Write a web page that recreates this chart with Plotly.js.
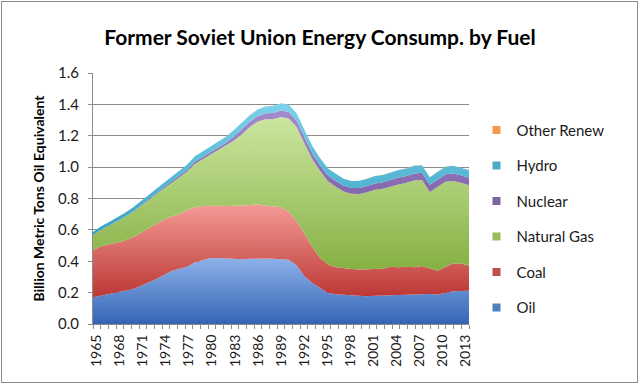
<!DOCTYPE html>
<html>
<head>
<meta charset="utf-8">
<script src="https://cdn.plot.ly/plotly-3.0.1.min.js"></script>
<style>
  html, body { margin: 0; padding: 0; background: #ffffff; }
  #wrap { position: relative; width: 640px; height: 386px; overflow: hidden; }
  #frame { position: absolute; left: 1px; top: 1px; width: 635px; height: 380px; border: 1px solid #8a8a8a; pointer-events: none; }
  #chart { position: absolute; left: 0; top: 0; width: 640px; height: 386px; }
</style>
</head>
<body>
<div id="wrap">
  <div id="chart"></div>
  <div id="frame"></div>
</div>
<script>
const years = [1965,1966,1967,1968,1969,1970,1971,1972,1973,1974,
               1975,1976,1977,1978,1979,1980,1981,1982,1983,1984,
               1985,1986,1987,1988,1989,1990,1991,1992,1993,1994,
               1995,1996,1997,1998,1999,2000,2001,2002,2003,2004,
               2005,2006,2007,2008,2009,2010,2011,2012,2013];

const tickYears = [1965,1968,1971,1974,1977,1980,1983,1986,1989,1992,1995,1998,2001,2004,2007,2010,2013];
const tickLabels = ['1965','1968','1971','1974','1977','1980','1983','1986','1989','1992','1995','1998','2001','2004','2007','2010','2013'];

const seriesNames = ['Oil','Coal','Natural Gas','Nuclear','Hydro','Other Renew'];

const oil = [0.170,0.180,0.192,0.203,0.212,0.222,0.240,0.260,0.285,0.310,
             0.338,0.352,0.365,0.392,0.405,0.420,0.420,0.416,0.413,0.412,
             0.416,0.418,0.418,0.416,0.414,0.410,0.375,0.305,0.262,0.230,
             0.198,0.190,0.187,0.183,0.178,0.177,0.180,0.182,0.184,0.186,
             0.188,0.190,0.190,0.192,0.188,0.200,0.208,0.210,0.212];

const coal = [0.300,0.315,0.315,0.317,0.318,0.328,0.340,0.350,0.355,0.355,
              0.347,0.348,0.360,0.353,0.347,0.335,0.334,0.336,0.339,0.343,
              0.342,0.344,0.337,0.332,0.331,0.305,0.280,0.270,0.228,0.190,
              0.182,0.172,0.168,0.167,0.170,0.171,0.170,0.170,0.181,0.176,
              0.177,0.172,0.180,0.163,0.152,0.165,0.177,0.175,0.160];

const gas = [0.095,0.105,0.118,0.130,0.150,0.160,0.165,0.175,0.185,0.195,
             0.215,0.235,0.245,0.275,0.298,0.320,0.351,0.383,0.418,0.455,
             0.497,0.528,0.550,0.557,0.575,0.595,0.600,0.575,0.560,0.555,
             0.530,0.513,0.490,0.480,0.480,0.492,0.505,0.510,0.513,0.528,
             0.535,0.553,0.548,0.486,0.535,0.542,0.526,0.515,0.512];

const nuclear = [0.001,0.001,0.001,0.002,0.002,0.003,0.004,0.005,0.006,0.007,
                 0.008,0.010,0.012,0.014,0.016,0.018,0.020,0.022,0.026,0.030,
                 0.034,0.035,0.038,0.040,0.041,0.041,0.041,0.040,0.038,0.036,
                 0.036,0.037,0.037,0.037,0.039,0.040,0.041,0.042,0.043,0.044,
                 0.044,0.045,0.046,0.046,0.046,0.047,0.048,0.048,0.047];

const hydro = [0.020,0.021,0.022,0.023,0.024,0.026,0.027,0.027,0.028,0.030,
               0.030,0.031,0.033,0.036,0.037,0.038,0.038,0.039,0.040,0.040,
               0.041,0.042,0.044,0.046,0.046,0.047,0.047,0.046,0.047,0.046,
               0.045,0.045,0.044,0.045,0.046,0.046,0.047,0.046,0.045,0.047,
               0.048,0.049,0.048,0.048,0.049,0.049,0.049,0.048,0.050];

const otherRenew = [0,0,0,0,0,0,0,0,0,0,
                    0,0,0,0,0,0,0,0,0,0,
                    0,0,0,0,0,0,0,0,0,0,
                    0,0,0,0,0,0.001,0.001,0.001,0.001,0.001,
                    0.001,0.001,0.001,0.001,0.001,0.001,0.001,0.001,0.001];

const seriesValues = [oil, coal, gas, nuclear, hydro, otherRenew];

// styling (not data)
const baseColors = ['#4F81BD','#C0504D','#9BBB59','#8064A2','#4BACC6','#F79646'];
const gradColors = [
  ['#3565B4','#8DB1EA'],
  ['#BC3734','#F39A95'],
  ['#86B043','#CBE6A0'],
  ['#7356A0','#A48BCB'],
  ['#37A3C3','#7DD2EA'],
  ['#E8823A','#F9B27A']
];

const FONT = 'Lato, "Open Sans", "DejaVu Sans", sans-serif';
const traces = [];
let below = years.map(() => 0);
seriesValues.forEach((vals, k) => {
  const above = vals.map((v, i) => below[i] + v);
  const start = Math.min.apply(null, below);
  const stop = Math.max.apply(null, above);
  traces.push({
    type: 'scatter',
    mode: 'lines',
    x: years,
    y: vals,
    name: seriesNames[k],
    stackgroup: 'one',
    line: {width: 0, color: baseColors[k], shape: 'linear'},
    fillcolor: baseColors[k],
    fillgradient: {
      type: 'vertical',
      start: start,
      stop: stop > start ? stop : start + 0.01,
      colorscale: [[0, gradColors[k][0]], [1, gradColors[k][1]]]
    },
    showlegend: false,
    hoverinfo: 'x+y+name'
  });
  below = above;
});

// legend swatches, top to bottom: Other Renew ... Oil
for (let k = seriesNames.length - 1; k >= 0; k--) {
  traces.push({
    type: 'scatter',
    mode: 'markers',
    x: [null],
    y: [null],
    name: seriesNames[k],
    legendgroup: 'g' + k,
    showlegend: true,
    marker: {symbol: 'square', size: 8, color: baseColors[k]},
    hoverinfo: 'skip'
  });
}

// category placement: labels centered between category boundaries
const nCat = years.length;
const span = years[years.length - 1] - years[0];
const catW = span / nCat;
const tickPos = tickYears.map(y => years[0] + (y - years[0] + 0.5) * catW);

const layout = {
  width: 640,
  height: 386,
  margin: {l: 93, r: 171, t: 73, b: 62},
  paper_bgcolor: 'rgba(0,0,0,0)',
  plot_bgcolor: '#ffffff',
  font: {family: FONT, size: 14, color: '#1a1a1a'},
  title: {
    text: '<b>Former Soviet Union Energy Consump. by Fuel</b>',
    font: {family: FONT, size: 21, color: '#000000'},
    xref: 'container', x: 0.5, xanchor: 'center',
    yref: 'container', y: 1 - 38 / 386, yanchor: 'middle'
  },
  xaxis: {
    type: 'linear',
    range: [years[0], years[years.length - 1]],
    tickmode: 'array',
    tickvals: tickPos,
    ticktext: tickLabels,
    tickangle: -90,
    ticks: '',
    showgrid: false,
    zeroline: false,
    showline: true,
    linecolor: '#8c8c8c',
    linewidth: 1,
    tickfont: {family: FONT, size: 14, color: '#1a1a1a'},
    ticklabelstandoff: 4,
    minor: {
      tickmode: 'linear',
      tick0: years[0],
      dtick: catW,
      ticks: 'outside',
      ticklen: 4,
      tickcolor: '#8c8c8c',
      tickwidth: 1,
      showgrid: false
    },
    fixedrange: true
  },
  yaxis: {
    range: [0, 1.6],
    dtick: 0.2,
    tick0: 0,
    tickformat: '.1f',
    showgrid: true,
    gridcolor: '#8c8c8c',
    gridwidth: 1,
    zeroline: false,
    showline: true,
    linecolor: '#8c8c8c',
    linewidth: 1,
    ticks: 'outside',
    ticklen: 4,
    tickcolor: '#8c8c8c',
    tickfont: {family: FONT, size: 15, color: '#1a1a1a'},
    ticklabelstandoff: 6,
    title: {
      text: '<b>Billion Metric Tons Oil Equivalent</b>',
      font: {family: FONT, size: 14, color: '#000000'},
      standoff: 10
    },
    fixedrange: true
  },
  showlegend: true,
  legend: {
    x: 1.02, xanchor: 'left',
    y: 0.838, yanchor: 'top',
    traceorder: 'grouped',
    tracegroupgap: 13,
    font: {family: FONT, size: 15, color: '#1a1a1a'},
    bgcolor: 'rgba(0,0,0,0)',
    borderwidth: 0
  },
  hovermode: false
};

Plotly.newPlot('chart', traces, layout, {displayModeBar: false, staticPlot: true});
</script>
</body>
</html>
